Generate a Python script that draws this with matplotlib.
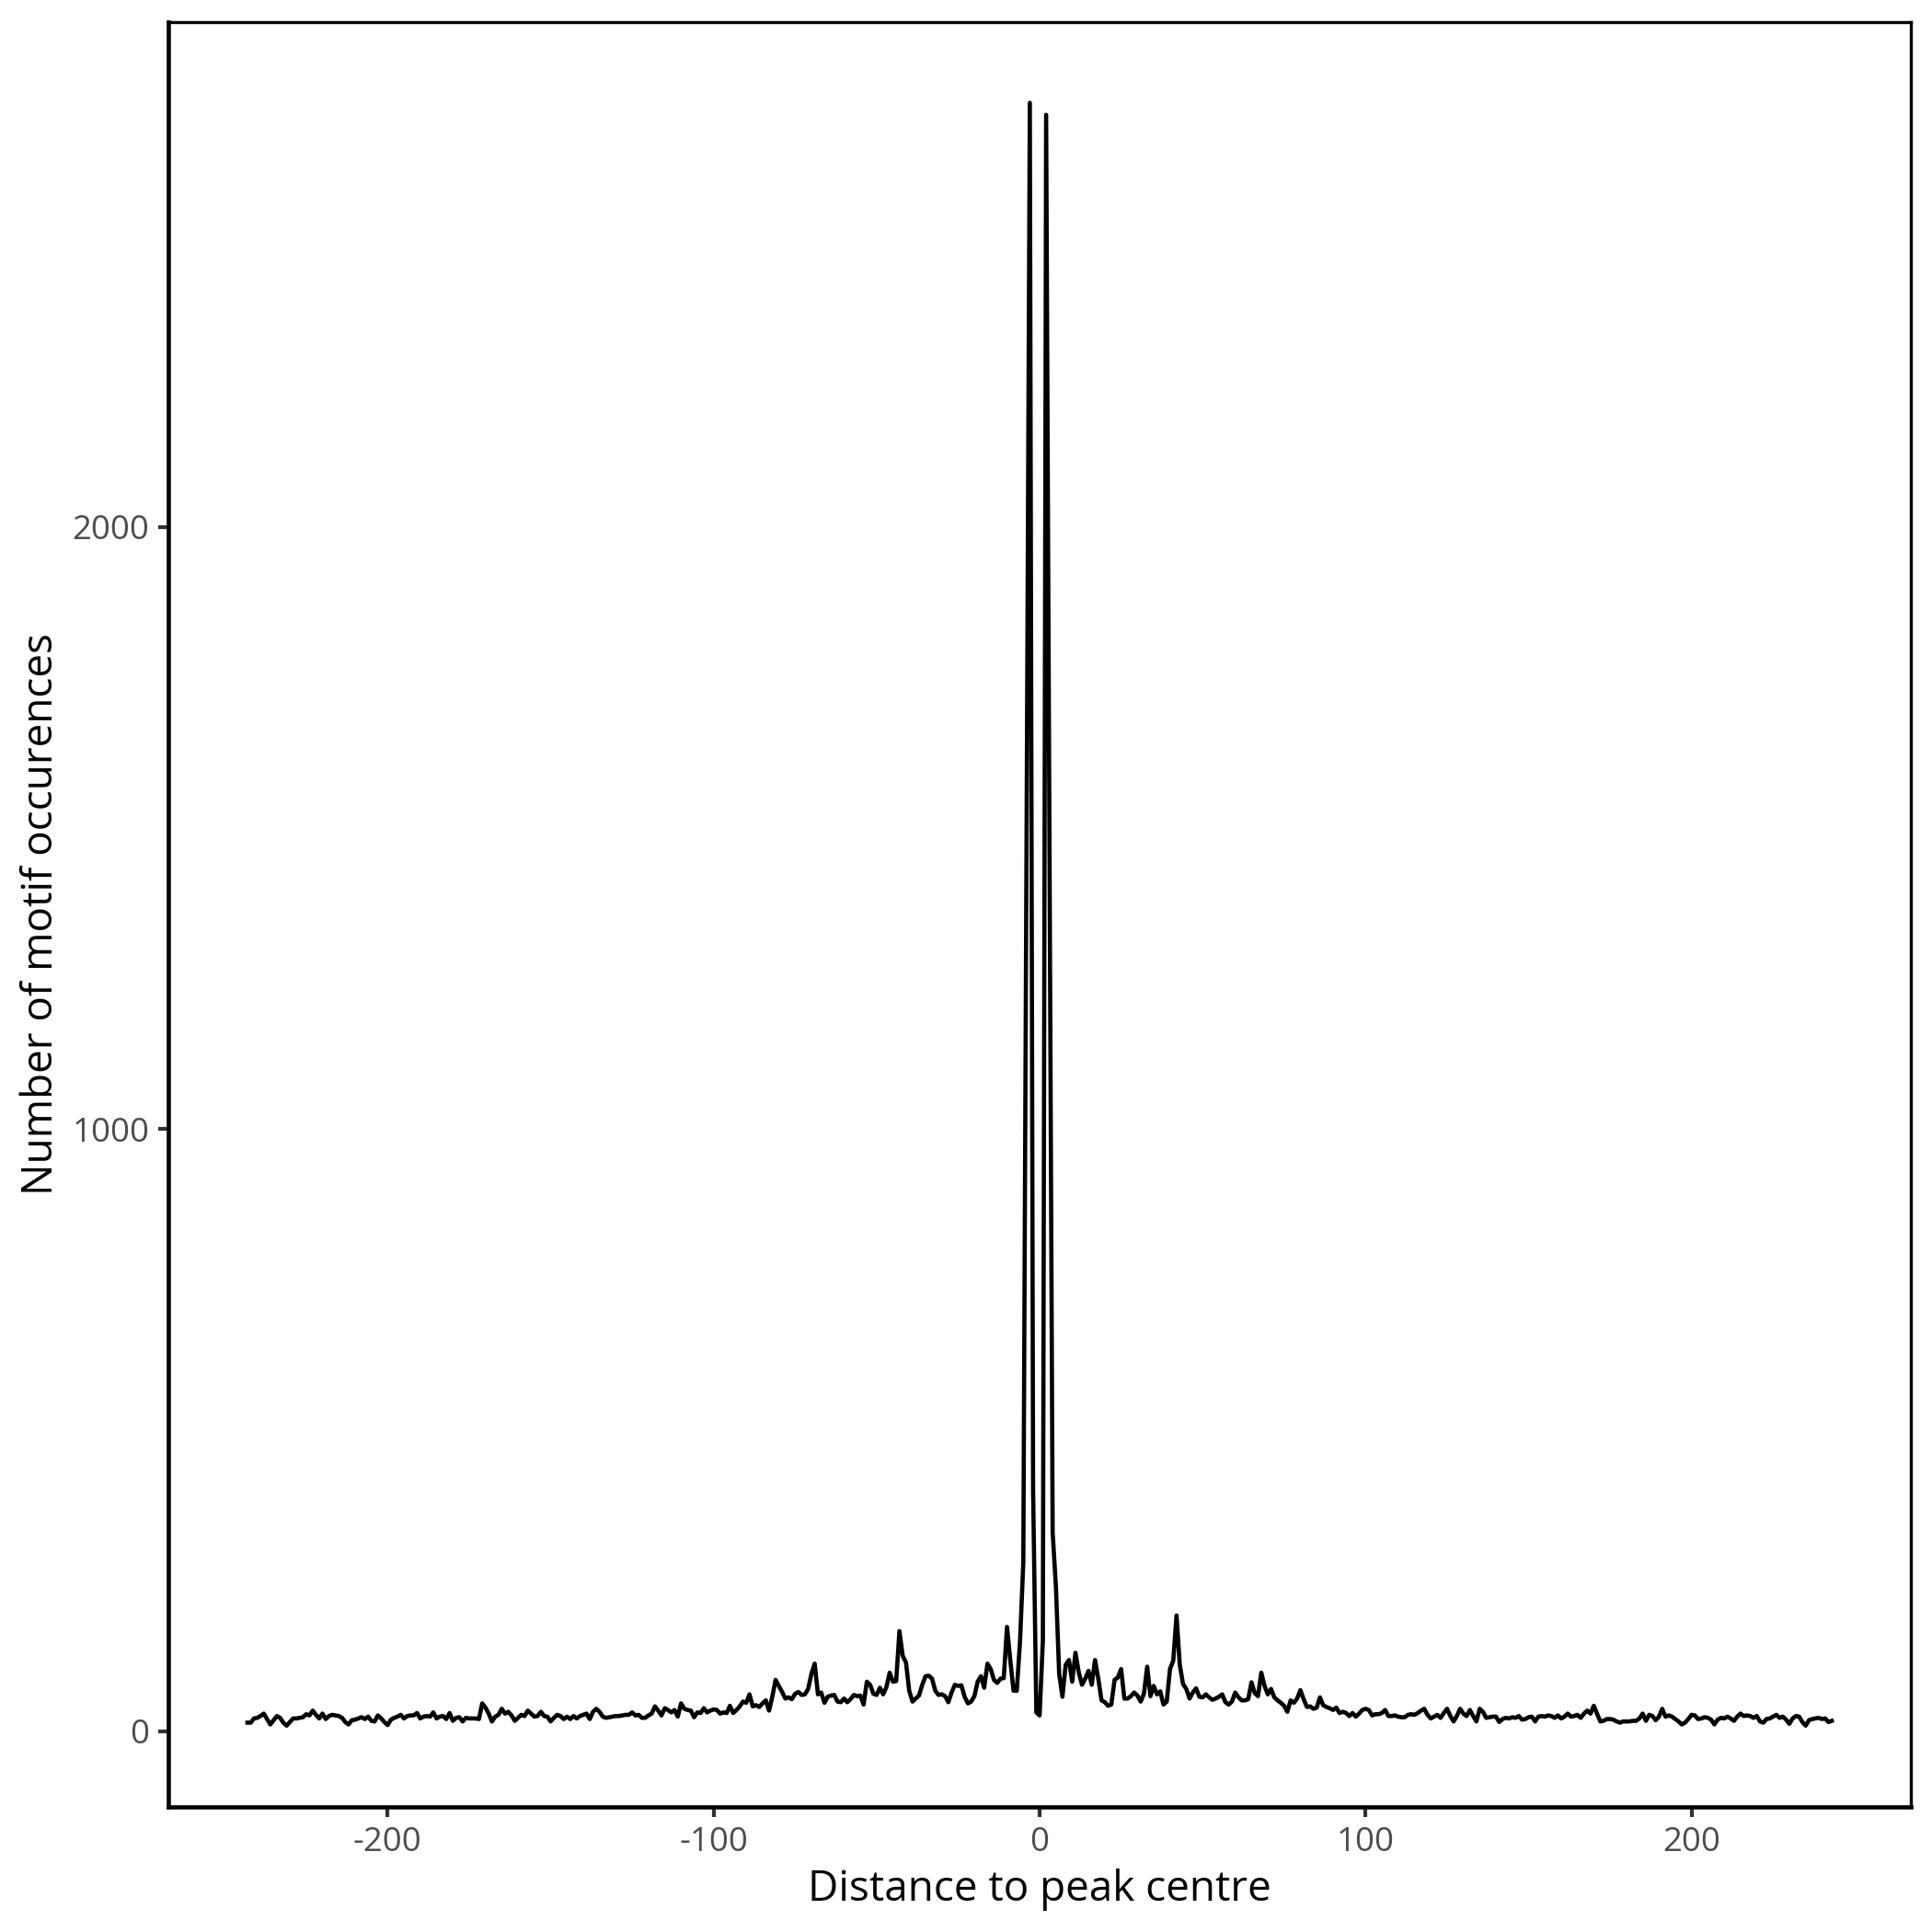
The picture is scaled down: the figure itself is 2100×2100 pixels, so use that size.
import numpy as np
import matplotlib.pyplot as plt

plt.rcParams['font.family'] = ['Open Sans', 'DejaVu Sans']
plt.rcParams['axes.unicode_minus'] = False

# motif counts per position (-243 .. 243)
left_counts = [14,
    14, 21, 22, 25, 29, 20, 11, 18, 25, 22, 14, 9, 15, 21, 21, 22, 23, 28, 26, 34,
    27, 21, 29, 20, 25, 27, 26, 25, 22, 15, 11, 18, 19, 21, 23, 20, 24, 17, 16, 26,
    21, 15, 10, 19, 22, 24, 27, 21, 25, 26, 26, 30, 21, 24, 25, 24, 31, 21, 24,
    25, 20, 30, 17, 22, 23, 16, 22, 21, 21, 21, 20, 46, 39, 29, 16, 24, 27, 37, 29,
    32, 26, 17, 22, 27, 25, 34, 29, 24, 25, 32, 25, 24, 16, 22, 27, 25, 20, 24, 20,
    25, 21, 25, 27, 29, 20, 32, 37, 32, 24, 22, 23, 24, 25, 25, 26,
    27, 27, 31, 26, 27, 22, 22, 26, 29, 41, 34, 26, 38, 35, 31, 35, 24, 46, 37, 35,
    34, 23, 31, 30, 38, 31, 34, 36, 35, 29, 31, 30, 42, 30, 35, 41, 49, 47, 61, 41,
    43, 40, 46, 51, 34, 57, 85, 75, 65, 54, 56, 53, 62, 65, 60, 61, 70,
    95, 112, 61, 64, 47, 57, 59, 60, 49, 48, 54, 48, 53, 60, 58, 59, 44, 82, 77, 62,
    60, 72, 61, 73, 97, 82, 83, 166, 125, 114, 67, 49, 54, 59, 77, 91, 92, 87, 67, 60,
    61, 58, 48, 64, 77, 75, 76, 57, 46, 49, 58, 82, 91, 72]

centre_counts = [112, 103, 85, 80, 87, 88, 173, 118, 67, 67, 150, 280, 1500,
    2704, 400, 31, 26, 150, 2684, 1500, 330, 240, 95, 57, 110, 118, 82, 130, 98,
    77, 87, 100, 77]

right_counts = [118, 87, 51, 48, 42, 44, 85, 89, 103, 54, 54, 58, 64, 59, 49, 62,
    107, 58, 75, 61, 66, 44, 49, 103, 117, 192, 110, 78, 70, 54, 64, 71, 57, 56, 61,
    56, 52, 54, 57, 61, 48, 44, 49, 64, 56, 51, 51, 53, 81, 63, 58, 97, 75, 61, 70,
    56, 51, 47, 42,
    32, 51, 47, 54, 68, 53, 40, 41, 37, 39, 56, 43, 40, 38, 35, 39, 30, 32, 30, 25,
    30, 24, 29, 35, 37, 35, 26, 28, 28, 30, 35, 25, 25, 26, 24, 23, 23, 27, 28, 27,
    30, 34, 37, 27, 21, 24, 27, 22, 30, 37, 25, 16, 25, 37,
    29, 25, 35, 25, 16, 37, 32, 22, 23, 24, 24, 15, 20, 22, 21, 23, 22, 25, 19, 20,
    23, 24, 16, 24, 25, 24, 26, 25, 22, 26, 21, 24, 29, 24, 25, 27, 22, 29, 34, 29,
    42, 29, 16, 17, 20, 20, 19, 16, 14, 16, 16, 16, 17, 17, 21, 29, 17, 27, 25,
    18, 24, 37, 24, 26, 24, 20, 16, 11, 14, 20, 27, 26, 20, 21, 23, 22, 19, 11, 19,
    22, 21, 24, 21, 17, 24, 29, 25, 26, 25, 22, 25, 16, 14, 20, 21, 24, 27, 22, 24,
    19, 12, 21, 25, 24, 15, 9, 18, 20, 21, 22, 20, 21, 15, 17]

counts = np.array(left_counts + centre_counts + right_counts)
distance = np.arange(-243, 244)

x_ticks = [-200, -100, 0, 100, 200]
y_ticks = [0, 1000, 2000]

fig = plt.figure(figsize=(7, 7), dpi=300)
ax = fig.add_axes([0.0871, 0.0648, 0.902, 0.924])

ax.plot(distance, counts, color='black', lw=1.1)

# ggplot-style 5% expansion
pad_x = 0.05 * (distance.max() - distance.min())
pad_y = 0.05 * (counts.max() - counts.min())
ax.set_xlim(distance.min() - pad_x, distance.max() + pad_x)
ax.set_ylim(counts.min() - pad_y, counts.max() + pad_y)

ax.set_xticks(x_ticks)
ax.set_yticks(y_ticks)
ax.tick_params(axis='both', colors='#333333', labelcolor='#4D4D4D',
               labelsize=8.8, length=2.75, width=1.0, pad=2.2)

for side in ['left', 'bottom']:
    ax.spines[side].set_linewidth(1.1)
for side in ['top', 'right']:
    ax.spines[side].set_linewidth(0.8)

ax.set_xlabel('Distance to peak centre', fontsize=11, labelpad=2.5)
ax.set_ylabel('Number of motif occurences', fontsize=11, labelpad=2.5)

fig.savefig('out.png', dpi=300, facecolor='white')
